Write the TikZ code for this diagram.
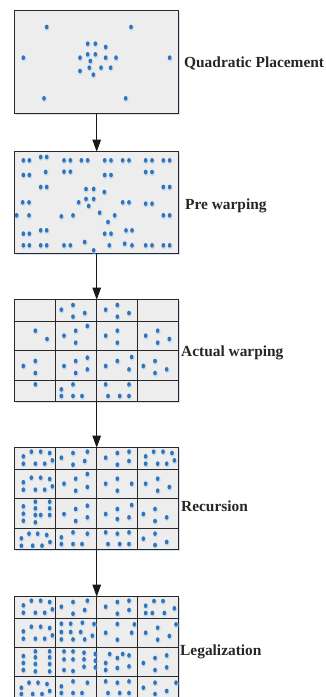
\documentclass[tikz,border=0pt]{standalone}
\usepackage{fontspec}
\setmainfont{Liberation Serif}
\usetikzlibrary{arrows.meta}
\definecolor{dotblue}{RGB}{46,117,190}
\definecolor{glowblue}{RGB}{165,198,232}
\definecolor{panelgray}{RGB}{237,237,237}
\definecolor{linegray}{RGB}{40,40,40}
\newcommand\putdots[3]{%
  \begin{scope}[xshift=#1pt, yshift=-#2pt, x=0.33333pt, y=-0.33333pt]
    \foreach \px/\py in {#3} {
      \fill[glowblue, opacity=0.45] (\px,\py) ++(0.5pt,-0.9pt) ellipse [x radius=2.5pt, y radius=3pt];
    }
    \foreach \px/\py in {#3} {
      \fill[dotblue] (\px,\py) ellipse [x radius=1.85pt, y radius=2.35pt];
    }
  \end{scope}}
\begin{document}
\begin{tikzpicture}[x=1pt, y=-1pt,
  panel/.style={draw=linegray, line width=0.9pt, fill=panelgray, minimum width=164pt, inner sep=0pt, outer sep=0pt},
  shadowbox/.style={fill=glowblue, opacity=0.5},
  steplabel/.style={font=\bfseries\fontsize{15.4}{18}\selectfont, text=black!85, anchor=base west, inner sep=0pt},
  flow/.style={draw=black!90, line width=0.9pt, -{Triangle[width=8.5pt,length=12pt]}},
  gridline/.style={draw=linegray, line width=0.9pt}]
\useasboundingbox (0,0) rectangle (325,697);
\fill[white] (0,0) rectangle (325,697);
\clip (0,0) rectangle (325,697);

% shadows
\fill[shadowbox] (15.7,12.2) rectangle (179.7,114.5);
\fill[shadowbox] (15.7,153.2) rectangle (179.7,254.5);
\fill[shadowbox] (15.7,301.2) rectangle (179.7,403.2);
\fill[shadowbox] (15.7,449.2) rectangle (179.7,550.5);
\fill[shadowbox] (15.7,598.2) rectangle (179.7,699.5);

% panels
\node[panel, minimum height=102.3pt] (p1) at (96.7,61.85) {};
\node[panel, minimum height=101.3pt] (p2) at (96.7,202.35) {};
\node[panel, minimum height=102pt]   (p3) at (96.7,350.7) {};
\node[panel, minimum height=101.3pt] (p4) at (96.7,498.35) {};
\node[panel, minimum height=101.3pt] (p5) at (96.7,647.35) {};

% grids
\draw[gridline] (55.7,299.7) -- (55.7,401.7) (96.7,299.7) -- (96.7,401.7) (137.7,299.7) -- (137.7,401.7)
  (14.7,321) -- (178.7,321) (14.7,350.3) -- (178.7,350.3) (14.7,380) -- (178.7,380);
\draw[gridline] (55.7,447.7) -- (55.7,549) (96.7,447.7) -- (96.7,549) (137.7,447.7) -- (137.7,549)
  (14.7,469) -- (178.7,469) (14.7,498.3) -- (178.7,498.3) (14.7,528) -- (178.7,528);
\draw[gridline] (55.7,596.7) -- (55.7,698) (96.7,596.7) -- (96.7,698) (137.7,596.7) -- (137.7,698)
  (14.7,618) -- (178.7,618) (14.7,647.3) -- (178.7,647.3) (14.7,676.3) -- (178.7,676.3);

% dots
\putdots{10}{5}{110/66,363/66,40/158,479/158,102/280,347/280,233/116,256/116,287/126,210/158,233/148,256/148,287/158,318/158,241/168,210/198,238/188,273/188,302/188,250/209}

\putdots{10}{147}{40/40,58/40,162/40,181/40,214/40,233/40,284/40,303/40,338/40,357/40,407/40,426/40,460/40,479/40,92/30,110/30,
40/84,58/84,107/75,162/74,181/74,284/84,303/84,407/75,426/75,
92/120,110/120,228/126,251/126,283/135,460/120,479/120,
38/166,57/166,228/156,251/156,206/166,236/177,338/166,357/166,407/170,426/170,
20/205,57/205,154/208,189/205,269/197,314/205,294/225,460/205,479/205,
40/260,58/260,92/250,110/250,284/260,303/260,348/250,366/250,
40/295,58/295,92/295,110/295,162/295,181/295,224/285,251/310,298/295,344/290,366/295,407/295,426/295,460/295,479/295}

\putdots{10}{295}{154/44,189/30,189/65,224/54,287/44,322/30,322/65,357/54,76/107,111/132,
162/122,197/107,197/143,232/93,287/122,322/107,322/143,407/122,443/107,443/143,478/132,
40/213,76/198,76/234,162/213,197/198,197/234,232/188,232/223,287/213,322/198,357/223,365/186,
400/213,435/198,435/234,470/223,76/268,154/283,154/303,189/268,189/303,216/303,
287/268,294/303,329/303,357/268,357/303}

\putdots{10}{443}{40/40,64/26,92/26,119/30,40/62,76/62,104/62,127/52,
154/44,189/30,189/65,232/26,224/54,
287/44,322/30,322/65,357/26,357/54,
407/40,431/26,459/26,486/30,407/62,443/62,470/62,493/52,
40/118,64/104,92/104,119/108,40/140,76/140,104/140,127/130,
162/122,197/107,197/143,232/93,232/132,
287/122,322/107,322/143,365/122,
407/122,443/107,443/143,478/132,
40/190,40/212,40/233,76/176,76/196,76/216,76/238,92/216,119/176,119/196,119/216,
162/213,197/198,197/234,232/188,232/223,
287/213,322/198,322/228,357/223,365/186,
400/213,435/198,435/234,470/223,
34/286,57/272,83/272,110/276,34/308,68/308,96/308,120/297,
154/283,154/303,189/268,189/303,216/303,232/272,
287/268,294/303,322/272,329/303,357/268,357/303,
400/287,435/272,435/306,470/297}

\putdots{10}{592}{40/40,64/26,92/26,119/30,40/62,76/62,104/62,127/52,
154/44,189/30,189/65,232/26,224/54,
287/44,322/30,322/65,357/26,357/54,
407/41,432/27,459/27,407/63,427/63,463/63,493/49,
40/118,64/104,92/104,119/108,40/140,76/140,104/140,127/130,
154/95,182/95,217/92,252/96,154/120,182/120,212/120,247/131,154/142,189/142,224/142,
287/122,322/96,322/143,365/122,373/97,
407/122,443/107,443/143,478/132,498/97,
40/192,40/213,40/234,76/178,76/196,76/216,76/238,119/178,119/196,119/216,119/238,
162/178,189/178,222/182,256/186,162/202,189/202,222/202,256/206,222/224,256/226,162/234,189/237,
299/186,338/186,357/190,322/198,287/213,357/223,322/228,287/234,
400/213,435/198,435/234,470/190,470/226,
34/287,57/272,84/272,111/276,34/306,68/306,96/306,119/297,
154/283,154/303,189/268,189/303,216/303,232/272,
287/268,294/303,322/272,329/303,357/268,357/303,
400/287,435/272,435/306,470/297,498/272}

% arrows
\draw[flow] (p1.south) -- (p2.north);
\draw[flow] (p2.south) -- (p3.north);
\draw[flow] (p3.south) -- (p4.north);
\draw[flow] (p4.south) -- (p5.north);

% labels
\node[steplabel] (l1) at (184,67.3) {Quadratic Placement};
\node[steplabel] (l2) at (185,209) {Pre warping};
\node[steplabel] (l3) at (181,356) {Actual warping};
\node[steplabel] (l4) at (181,511) {Recursion};
\node[steplabel] (l5) at (180,655) {Legalization};
\end{tikzpicture}
\end{document}
